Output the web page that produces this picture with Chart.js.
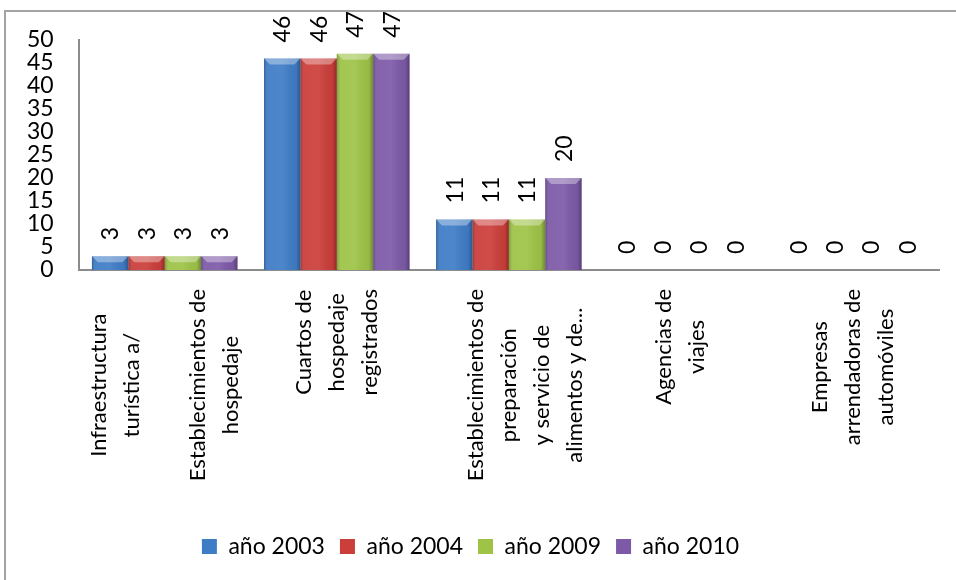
<!DOCTYPE html>
<html>
<head>
<meta charset="utf-8">
<script src="https://cdn.jsdelivr.net/npm/chart.js@4"></script>
<style>
  html, body { margin: 0; padding: 0; background: #fff; }
  #wrap { position: relative; width: 956px; height: 580px; overflow: hidden; }
  #frame { position: absolute; left: 4px; top: 10px; width: 1000px; height: 700px;
           border-left: 2px solid #a3a3a3; border-top: 2px solid #a3a3a3; }
  canvas { position: absolute; left: 0; top: 0; }
</style>
</head>
<body>
<div id="wrap">
  <div id="frame"></div>
  <canvas id="chart" width="956" height="580"></canvas>
</div>
<script>
// categories, one array of lines each (blank lines keep the spacing seen in the picture)
const categories = [
  ['Infraestructura', 'turística a/', '', 'Establecimientos de', 'hospedaje'],
  ['Cuartos de', 'hospedaje', 'registrados'],
  ['', 'Establecimientos de', 'preparación', 'y servicio de', 'alimentos y de...'],
  ['Agencias de', 'viajes'],
  ['Empresas', 'arrendadoras de', 'automóviles']
]
const seriesNames = ['año 2003', 'año 2004', 'año 2009', 'año 2010']
const values2003 = [3, 46, 11, 0, 0]
const values2004 = [3, 46, 11, 0, 0]
const values2009 = [3, 47, 11, 0, 0]
const values2010 = [3, 47, 20, 0, 0]
const yMin = 0
const yMax = 50
const yStep = 5

const colors = ['#3F7CC6', '#CB3E3A', '#9EC347', '#7D5AA8']
const FONT = 'Lato'
const FS = 23
const CAT_FS = 22

// shading so the bars look like the bevelled Excel ones
const bevelPlugin = {
  id: 'bevel',
  afterDatasetsDraw(chart) {
    const ctx = chart.ctx
    chart.data.datasets.forEach((ds, di) => {
      chart.getDatasetMeta(di).data.forEach(bar => {
        const { x, y, base, width } = bar.getProps(['x', 'y', 'base', 'width'], true)
        const h = base - y
        if (h < 1) return
        const l = x - width / 2, r = x + width / 2
        ctx.save()
        const g = ctx.createLinearGradient(l, 0, r, 0)
        g.addColorStop(0, 'rgba(0,0,0,0.22)')
        g.addColorStop(0.12, 'rgba(255,255,255,0.06)')
        g.addColorStop(0.5, 'rgba(255,255,255,0.08)')
        g.addColorStop(0.88, 'rgba(0,0,0,0.04)')
        g.addColorStop(1, 'rgba(0,0,0,0.3)')
        ctx.fillStyle = g
        ctx.fillRect(l, y, width, h)
        const b = Math.min(6, h / 2)
        ctx.beginPath()
        ctx.moveTo(l, y); ctx.lineTo(r, y)
        ctx.lineTo(r - b, y + b); ctx.lineTo(l + b, y + b)
        ctx.closePath()
        ctx.fillStyle = 'rgba(255,255,255,0.35)'
        ctx.fill()
        ctx.restore()
      })
    })
  }
}

// rotated value labels above the bars
const valueLabels = {
  id: 'valueLabels',
  afterDatasetsDraw(chart) {
    const ctx = chart.ctx
    ctx.save()
    ctx.font = `${FS}px ${FONT}`
    ctx.fillStyle = '#000'
    ctx.textAlign = 'left'
    ctx.textBaseline = 'alphabetic'
    chart.data.datasets.forEach((ds, di) => {
      chart.getDatasetMeta(di).data.forEach((bar, i) => {
        const { x, y } = bar.getProps(['x', 'y'], true)
        ctx.save()
        ctx.translate(x + FS * 0.36, y - 16)
        ctx.rotate(-Math.PI / 2)
        ctx.fillText(String(ds.data[i]), 0, 0)
        ctx.restore()
      })
    })
    ctx.restore()
  }
}

// category labels: rotated, lines centred on each other
const categoryLabels = {
  id: 'categoryLabels',
  afterDraw(chart) {
    const ctx = chart.ctx
    const scale = chart.scales.x
    const pitch = 33
    ctx.save()
    ctx.font = `${CAT_FS}px ${FONT}`
    ctx.fillStyle = '#000'
    ctx.textAlign = 'center'
    ctx.textBaseline = 'middle'
    categories.forEach((lines, i) => {
      const x = scale.getPixelForValue(i)
      const w = Math.max(...lines.map(l => ctx.measureText(l).width))
      const cy = scale.top + 19 + w / 2
      lines.forEach((line, k) => {
        const lx = x + (k - (lines.length - 1) / 2) * pitch
        ctx.save()
        ctx.translate(lx, cy)
        ctx.rotate(-Math.PI / 2)
        ctx.fillText(line, 0, 0)
        ctx.restore()
      })
    })
    ctx.restore()
  }
}

const seriesValues = [values2003, values2004, values2009, values2010]

new Chart(document.getElementById('chart'), {
  type: 'bar',
  data: {
    labels: categories,
    datasets: seriesNames.map((name, i) => ({
      label: name,
      data: seriesValues[i],
      backgroundColor: colors[i],
      borderWidth: 0,
      barPercentage: 1.0,
      categoryPercentage: 0.846
    }))
  },
  options: {
    responsive: false,
    animation: false,
    layout: { padding: { left: 2, right: 17, top: 40, bottom: 12 } },
    plugins: {
      legend: {
        position: 'bottom',
        labels: {
          color: '#000',
          font: { family: FONT, size: FS },
          boxWidth: 15,
          boxHeight: 15,
          padding: 15
        }
      },
      tooltip: { enabled: false }
    },
    scales: {
      x: {
        grid: { display: false, drawTicks: false },
        border: { color: '#8c8c8c', width: 2 },
        ticks: { display: false },
        afterFit: (scale) => { scale.height = 250 }
      },
      y: {
        min: yMin,
        max: yMax,
        grid: { display: false, drawTicks: false },
        border: { color: '#8c8c8c', width: 2 },
        ticks: {
          stepSize: yStep,
          autoSkip: false,
          padding: 25,
          color: '#000',
          font: { family: FONT, size: FS, lineHeight: 1 }
        }
      }
    }
  },
  plugins: [bevelPlugin, valueLabels, categoryLabels]
})
</script>
</body>
</html>
